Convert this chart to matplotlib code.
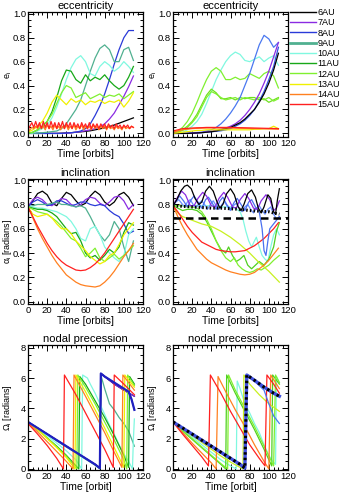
import numpy as np
import matplotlib
matplotlib.use('Agg')
import matplotlib.pyplot as plt
from matplotlib.lines import Line2D
from matplotlib.ticker import MultipleLocator, FormatStrFormatter

plt.rcParams['font.family'] = ['Liberation Sans', 'DejaVu Sans']
plt.rcParams['mathtext.fontset'] = 'custom'
plt.rcParams['mathtext.rm'] = 'Liberation Sans'
plt.rcParams['mathtext.it'] = 'Liberation Sans:italic'

# ---- legend / colours ----
labels = ['6AU', '7AU', '8AU', '9AU', '10AU', '11AU', '12AU', '13AU', '14AU', '15AU']
colors = ['#000000', '#8a2be2', '#2a3ad8', '#50b090', '#80f8e0',
          '#18a818', '#80f030', '#f0f000', '#ff8020', '#ff2020']

# time grid every 5 orbits
T5 = list(range(0, 115, 5))

# ---- eccentricity, left panel (values on T5) ----
eccL = [
    [0, 0, 0, 0, 0, 0, 0, .002, .004, .006, .01, .013, .017, .022, .03, .038, .047, .058, .07, .085, .1, .115, .13],
    [0, 0, 0, 0, 0, 0, 0, 0, .002, .005, .01, .015, .022, .03, .04, .055, .08, .12, .17, .24, .31, .39, .48],
    [0, 0, 0, 0, 0, 0, 0, 0, .003, .006, .01, .02, .04, .08, .15, .23, .33, .45, .58, .7, .8, .86, .86],
    [0, 0, .003, .006, .01, .015, .02, .04, .08, .14, .2, .28, .4, .52, .63, .71, .74, .7, .6, .6, .7, .72, .61],
    [0, .005, .02, .04, .07, .13, .22, .33, .45, .55, .62, .65, .6, .5, .48, .56, .6, .57, .52, .55, .6, .56, .51],
    [0, .01, .03, .06, .1, .18, .3, .44, .53, .52, .45, .42, .49, .44, .47, .45, .49, .44, .4, .37, .4, .47, .56],
    [0, .01, .03, .06, .1, .16, .25, .34, .4, .38, .3, .32, .34, .29, .31, .33, .3, .32, .31, .33, .29, .32, .35],
    [.01, .03, .06, .1, .17, .26, .32, .28, .24, .29, .26, .28, .24, .27, .26, .28, .25, .27, .26, .28, .22, .27, .34],
]
# fast oscillating outer planets, every 2 orbits
eccL_14 = [.02, .03, .05, .04, .06, .04, .07, .04, .06, .03, .07, .04, .06, .03, .07, .04, .06, .03, .06, .04,
           .07, .03, .06, .04, .07, .03, .06, .04, .07, .03, .06, .04, .06, .03, .07, .04, .06, .03, .06, .04,
           .06, .03, .06, .04, .05, .03, .06, .04, .05, .03, .06, .04, .05, .04, .06, .05]
eccL_15 = [.03, .06, .09, .05, .1, .05, .09, .04, .1, .05, .09, .04, .1, .05, .09, .04, .09, .05, .1, .04,
           .09, .05, .09, .04, .09, .05, .08, .04, .09, .05, .08, .04, .09, .04, .08, .05, .08, .04, .08, .05,
           .08, .04, .08, .05, .07, .04, .08, .05, .07, .04, .07, .05, .07, .04, .06, .05]

# ---- eccentricity, right panel (values on T5) ----
eccR_black = [0, 0, 0, 0, .002, .004, .006, .01, .014, .02, .03, .04, .05, .07, .09, .12, .16, .2, .26, .33, .42, .53, .67]
eccR_purple = [0, 0, 0, 0, .002, .004, .008, .012, .018, .025, .035, .045, .06, .08, .11, .15, .2, .26, .33, .42, .52, .64, .76]
eccR_blue = [0, 0, 0, .002, .005, .008, .01, .02, .03, .05, .08, .12, .17, .23, .3, .4, .5, .62, .74, .82, .79, .72, .76]
eccR_blue2 = [0, 0, 0, 0, 0, .003, .006, .01, .014, .018, .022, .03, .04, .06, .08, .11, .15, .2, .27, .35, .45, .56, .72]
eccR_cyan = [0, 0, .01, .03, .06, .1, .16, .25, .35, .45, .53, .6, .65, .68, .66, .61, .6, .62, .64, .6, .63, .65, .57]
eccR_green = [0, .02, .05, .1, .17, .26, .36, .45, .52, .55, .52, .45, .45, .47, .45, .46, .5, .48, .46, .5, .52, .48, .38]
eccR_green2 = [0, .01, .03, .06, .1, .16, .24, .32, .37, .34, .29, .29, .3, .28, .3, .29, .3, .3, .28, .29, .26, .28, .3]
eccR_green3 = [0, .01, .025, .05, .09, .14, .22, .3, .35, .33, .3, .28, .29, .3, .28, .3, .29, .28, .3, .28, .3, .27, .29]
eccR_yellow = [0, .005, .01, .015, .02, .025, .025, .03, .03, .03, .03, .03, .03, .03, .03, .03, .03, .035, .035, .04, .04, .06, .04]
eccR_orange = [.01, .02, .03, .035, .04, .042, .044, .045, .045, .045, .045, .045, .045, .044, .043, .042, .041, .04, .04, .038, .037, .036, .035]
eccR_red = [.02, .03, .04, .042, .045, .047, .048, .05, .05, .05, .05, .05, .05, .049, .048, .047, .046, .045, .044, .043, .042, .041, .04]

# ---- inclination, left panel (values on T5) ----
incL = [
    [.78, .83, .89, .91, .88, .81, .79, .85, .9, .88, .83, .79, .81, .87, .91, .88, .82, .79, .82, .88, .9, .86, .79],
    [.78, .84, .86, .84, .8, .79, .82, .85, .84, .8, .78, .8, .84, .86, .85, .81, .79, .82, .86, .87, .83, .76, .8],
    [.78, .82, .84, .82, .79, .8, .83, .83, .81, .79, .8, .82, .82, .8, .79, .8, .79, .75, .72, .7, .64, .56, .58],
    [.78, .79, .8, .8, .8, .81, .82, .8, .8, .79, .78, .79, .77, .7, .62, .55, .5, .55, .66, .6, .45, .33, .5],
    [.78, .78, .77, .77, .76, .75, .74, .72, .7, .66, .6, .52, .5, .6, .62, .55, .45, .4, .36, .33, .38, .55, .6],
    [.78, .77, .76, .76, .75, .73, .7, .65, .6, .56, .57, .5, .4, .36, .38, .34, .38, .43, .4, .45, .57, .65, .63],
    [.78, .76, .74, .73, .72, .69, .66, .62, .57, .52, .5, .44, .37, .4, .44, .36, .33, .36, .39, .35, .38, .42, .46],
    [.78, .72, .7, .71, .72, .69, .64, .6, .6, .56, .5, .46, .42, .37, .34, .31, .33, .38, .4, .47, .55, .6, .65],
    [.78, .69, .6, .52, .45, .38, .32, .27, .22, .19, .16, .14, .13, .125, .12, .13, .16, .2, .25, .31, .37, .42, .48],
    [.78, .7, .62, .55, .48, .42, .37, .33, .3, .28, .26, .255, .26, .28, .31, .35, .4, .46, .52, .58, .64, .7, .76],
]

# ---- inclination, right panel (own time samples) ----
incR_black_t = [0, 4, 8, 12, 15, 19, 23, 27, 30, 34, 38, 42, 46, 49, 52, 56, 60, 64, 68, 71, 74, 78, 82, 86, 89, 92, 95, 99, 102, 105, 107, 109, 111]
incR_black = [.79, .84, .91, .95, .96, .93, .85, .8, .82, .91, .95, .91, .82, .77, .8, .89, .93, .88, .78, .75, .8, .89, .92, .86, .77, .73, .78, .88, .85, .74, .72, .84, .93]
incR_purple_t = [0, 4, 9, 13, 18, 22, 26, 31, 35, 40, 44, 48, 53, 57, 62, 66, 70, 75, 79, 84, 88, 92, 97, 101, 105, 108, 111]
incR_purple = [.79, .85, .91, .88, .79, .79, .85, .9, .87, .79, .78, .85, .9, .86, .78, .77, .84, .89, .85, .77, .76, .83, .88, .84, .75, .77, .83]
incR_blue_t = [0, 4, 7, 11, 15, 19, 22, 26, 30, 34, 37, 41, 45, 49, 52, 56, 60, 64, 67, 71, 75, 79, 82, 86, 90, 93, 95, 97, 99, 101, 104, 107, 111]
incR_blue = [.79, .84, .87, .83, .78, .84, .87, .82, .77, .84, .86, .81, .76, .83, .86, .8, .76, .82, .85, .8, .75, .82, .84, .78, .74, .6, .42, .38, .5, .6, .63, .66, .7]
incR_blue2_t = [0, 3, 6, 9, 12, 15, 18, 21, 24, 27, 30, 33, 36, 39, 42, 45, 48, 51, 54, 57, 60, 63, 66, 69, 72, 75, 78, 81, 84, 87, 90, 93, 96, 99, 102, 105, 108, 111]
incR_blue2 = [.79, .82, .84, .81, .78, .82, .84, .8, .77, .81, .83, .8, .76, .8, .83, .79, .76, .8, .82, .78, .75, .79, .81, .77, .74, .78, .8, .76, .73, .77, .79, .75, .72, .76, .78, .72, .68, .7]
incR_dot_t = [0, 10, 20, 30, 40, 50, 60, 70, 80, 90, 100, 105, 111]
incR_dot = [.79, .785, .78, .775, .77, .77, .765, .76, .75, .745, .74, .73, .72]
incR_cyan_t = [0, 10, 20, 30, 40, 50, 60, 65, 70, 73, 76, 79, 82, 85, 87, 90, 93, 96, 99, 102, 105, 108, 111]
incR_cyan = [.79, .79, .79, .79, .79, .78, .78, .77, .74, .68, .58, .5, .45, .5, .53, .45, .38, .35, .33, .45, .55, .6, .55]
incR_green_t = [0, 5, 10, 15, 20, 25, 30, 35, 40, 45, 50, 55, 58, 62, 66, 70, 74, 78, 82, 86, 90, 95, 100, 105, 108, 111]
incR_green = [.79, .77, .75, .76, .76, .75, .72, .66, .58, .5, .43, .4, .45, .38, .33, .35, .38, .3, .27, .3, .33, .3, .35, .45, .58, .65]
incR_lgreen_t = [0, 5, 10, 15, 20, 25, 30, 35, 40, 45, 50, 55, 60, 64, 68, 72, 76, 80, 84, 88, 92, 96, 100, 105, 111]
incR_lgreen = [.79, .79, .79, .78, .78, .77, .74, .68, .6, .5, .42, .36, .33, .36, .3, .27, .25, .24, .25, .27, .26, .28, .3, .34, .38]
incR_ygreen_t = [0, 5, 10, 20, 30, 40, 50, 60, 70, 80, 90, 100, 111]
incR_ygreen = [.79, .73, .7, .67, .64, .62, .58, .53, .47, .4, .32, .25, .16]
incR_orange = [.79, .7, .62, .55, .49, .43, .39, .35, .32, .3, .28, .26, .245, .235, .225, .22, .225, .24, .27, .3, .34, .39, .44]
incR_red = [.79, .74, .68, .62, .57, .53, .49, .47, .45, .43, .42, .415, .41, .41, .415, .42, .44, .46, .49, .52, .56, .6, .65]
incR_crit = 0.685

# ---- nodal precession, left panel ----
nodL = [
    ([0, 10, 20, 30, 40, 50, 60, 70, 75, 76, 80, 90, 100, 111], [3.1, 2.7, 2.3, 1.9, 1.5, 1.1, .7, .3, .05, 6.3, 6.1, 5.6, 5.2, 4.8]),
    ([0, 10, 20, 30, 40, 50, 60, 70, 75, 76, 80, 90, 100, 111], [3.1, 2.7, 2.3, 1.9, 1.5, 1.1, .7, .3, .05, 6.3, 6.1, 5.6, 5.2, 4.8]),
    ([0, 10, 20, 30, 40, 50, 60, 70, 75, 76, 80, 90, 100, 105, 108, 111], [3.1, 2.7, 2.3, 1.9, 1.5, 1.1, .7, .3, .05, 6.3, 6.1, 5.7, 5.3, 5.1, 4.6, 3.9]),
    ([0, 10, 20, 30, 40, 50, 60, 70, 75, 76, 80, 85, 90, 95, 100, 105, 111], [3.1, 2.7, 2.3, 1.85, 1.45, 1.05, .65, .25, 0, 6.2, 5.3, 4.3, 3.9, 3.4, 3.0, 2.5, 1.5]),
    ([0, 10, 20, 30, 40, 50, 56, 57, 62, 65, 70, 75, 80, 85, 90, 95, 100, 105, 109, 110, 111], [3.1, 2.7, 2.2, 1.7, 1.2, .6, 0, 6.2, 6.0, 5.6, 5.0, 4.3, 3.6, 2.9, 2.3, 1.6, 1.0, .5, 0, 2.0, 3.3]),
    ([0, 10, 20, 30, 40, 53, 54, 60, 70, 80, 90, 100, 105, 106, 111], [3.1, 2.6, 2.05, 1.5, .9, 0, 6.1, 5.6, 4.5, 3.4, 2.2, .9, .1, 6.1, 5.6]),
    ([0, 10, 20, 30, 40, 51, 52, 60, 70, 80, 90, 100, 103, 104, 111], [3.1, 2.6, 2.05, 1.45, .85, 0, 6.2, 5.4, 4.3, 3.1, 1.9, .6, 0, 6.2, 5.5]),
    ([0, 10, 20, 30, 40, 49, 50, 60, 70, 80, 90, 100, 101, 111], [3.1, 2.6, 2.0, 1.4, .75, 0, 6.2, 5.1, 3.9, 2.7, 1.4, .1, 6.2, 5.4]),
    ([0, 10, 20, 30, 40, 47, 48, 60, 70, 80, 90, 98, 99, 111], [3.05, 2.45, 1.8, 1.15, .5, 0, 6.2, 4.8, 3.6, 2.4, 1.1, .1, 6.2, 5.2]),
    ([0, 10, 20, 30, 37, 38, 50, 60, 70, 80, 89, 90, 100, 111], [3.0, 2.3, 1.55, .7, 0, 6.2, 4.9, 3.7, 2.5, 1.3, .1, 6.2, 5.6, 4.9]),
]

# ---- nodal precession, right panel ----
nodR_main_t = [0, 10, 20, 30, 40, 50, 60, 70, 75, 77, 85, 95, 105, 111]
nodR_main = [3.1, 2.7, 2.3, 1.9, 1.5, 1.1, .7, .3, .05, 6.2, 5.85, 5.4, 5.0, 4.8]
nodR_blue_t = [0, 10, 20, 30, 40, 50, 60, 70, 75, 77, 85, 95, 100, 105, 111]
nodR_blue = [3.1, 2.7, 2.3, 1.9, 1.5, 1.1, .7, .3, 0, 6.2, 5.8, 5.2, 4.3, 3.5, 3.0]
nodR_cyan_t = [0, 10, 20, 30, 40, 50, 60, 66, 67, 70, 75, 80, 85, 90, 95, 100, 104, 107, 108, 111]
nodR_cyan = [3.1, 2.6, 2.1, 1.6, 1.1, .6, .2, 0, 5.8, 5.3, 4.3, 3.7, 3.0, 2.4, 1.6, .9, .5, .3, 6.1, 5.7]
nodR_green_t = [0, 10, 20, 30, 40, 50, 55, 56, 65, 75, 85, 95, 103, 104, 111]
nodR_green = [3.1, 2.5, 1.95, 1.4, .85, .3, 0, 6.2, 5.0, 3.8, 2.6, 1.3, .2, 6.2, 5.6]
nodR_lgreen_t = [0, 10, 20, 30, 40, 50, 57, 58, 65, 75, 85, 95, 105, 107, 111]
nodR_lgreen = [3.1, 2.55, 2.0, 1.45, .9, .35, 0, 6.2, 5.2, 4.0, 2.8, 1.5, .2, 6.2, 5.7]
nodR_ygreen_t = [0, 10, 20, 30, 40, 50, 60, 70, 73, 74, 80, 90, 100, 111]
nodR_ygreen = [3.1, 2.65, 2.2, 1.75, 1.3, .85, .45, .1, 0, 6.2, 5.6, 4.9, 4.3, 3.8]
nodR_orange_t = [0, 10, 20, 30, 40, 45, 47, 55, 65, 75, 85, 95, 100, 102, 111]
nodR_orange = [3.1, 2.4, 1.7, 1.05, .4, 0, 6.1, 5.1, 3.9, 2.8, 1.6, .5, 0, 6.2, 5.3]
nodR_red_t = [0, 10, 20, 30, 37, 39, 50, 60, 70, 80, 90, 96, 98, 105, 111]
nodR_red = [3.1, 2.3, 1.55, .8, .2, 6.2, 5.0, 3.8, 2.7, 1.6, .7, .2, 6.2, 5.6, 5.0]

# ---------------------------------------------------------------
W, H = 339, 493
fig = plt.figure(figsize=(W / 100, H / 100), dpi=100)


def box(x0, top, bottom):
    return [x0 / W, 1 - bottom / H, 115 / W, (bottom - top) / H]


axE1 = fig.add_axes(box(28, 12, 137))
axE2 = fig.add_axes(box(173, 12, 137))
axI1 = fig.add_axes(box(28, 179, 304))
axI2 = fig.add_axes(box(173, 179, 304))
axN1 = fig.add_axes(box(28, 345, 470))
axN2 = fig.add_axes(box(173, 345, 470))


def style(ax, ylim, ymaj, fmt, title, ylabel, xlabel):
    ax.set_xlim(0, 120)
    ax.set_ylim(*ylim)
    ax.xaxis.set_major_locator(MultipleLocator(20))
    ax.xaxis.set_minor_locator(MultipleLocator(5))
    ax.yaxis.set_major_locator(MultipleLocator(ymaj))
    ax.yaxis.set_minor_locator(MultipleLocator(ymaj / 4))
    ax.yaxis.set_major_formatter(FormatStrFormatter(fmt))
    ax.tick_params(which='both', direction='in', top=True, right=True,
                   labelsize=6.8, width=0.7, pad=1.5)
    ax.tick_params(which='major', length=4)
    ax.tick_params(which='minor', length=2)
    for s in ax.spines.values():
        s.set_linewidth(0.9)
    ax.set_title(title, fontsize=8, pad=2)
    ax.set_ylabel(ylabel, fontsize=6.5)
    ax.yaxis.set_label_coords(-0.125, 0.5)
    ax.set_xlabel(xlabel, fontsize=7.5, labelpad=0.5)


lw = 0.9

# eccentricity left
for vals, c in zip(eccL, colors[:8]):
    axE1.plot(T5, vals, color=c, lw=lw)
axE1.plot(2 * np.arange(len(eccL_14)), eccL_14, color=colors[8], lw=lw)
axE1.plot(2 * np.arange(len(eccL_15)), eccL_15, color=colors[9], lw=lw)

# eccentricity right
axE2.plot(T5, eccR_cyan, color=colors[4], lw=lw)
axE2.plot(T5, eccR_green, color=colors[6], lw=lw)
axE2.plot(T5, eccR_green2, color='#70e020', lw=lw)
axE2.plot(T5, eccR_green3, color=colors[6], lw=lw)
axE2.plot(T5, eccR_blue, color='#4a78f0', lw=lw)
axE2.plot(T5, eccR_blue2, color='#3050e0', lw=lw)
axE2.plot(T5, eccR_purple, color=colors[1], lw=lw)
axE2.plot(T5, eccR_black, color=colors[0], lw=lw)
axE2.plot(T5, eccR_yellow, color=colors[7], lw=lw)
axE2.plot(T5, eccR_orange, color=colors[8], lw=lw)
axE2.plot(T5, eccR_red, color=colors[9], lw=lw)

# inclination left
for vals, c in zip(incL, colors):
    axI1.plot(T5, vals, color=c, lw=lw)

# inclination right
axI2.plot(incR_cyan_t, incR_cyan, color=colors[4], lw=lw)
axI2.plot(incR_green_t, incR_green, color='#50d020', lw=lw)
axI2.plot(incR_lgreen_t, incR_lgreen, color=colors[6], lw=lw)
axI2.plot(incR_ygreen_t, incR_ygreen, color='#c8f020', lw=lw)
axI2.plot(T5, incR_orange, color=colors[8], lw=lw)
axI2.plot(T5, incR_red, color=colors[9], lw=lw)
axI2.plot(incR_blue2_t, incR_blue2, color='#6a90ff', lw=lw)
axI2.plot(incR_blue_t, incR_blue, color='#4a70f0', lw=lw)
axI2.plot(incR_purple_t, incR_purple, color=colors[1], lw=lw)
axI2.plot(incR_black_t, incR_black, color=colors[0], lw=lw)
axI2.plot(incR_dot_t, incR_dot, color='k', lw=2.2, dashes=(0.5, 0.7))
axI2.axhline(incR_crit, color='k', lw=1.8, dashes=(3, 2))

# nodal precession left
for (t, v), c in zip(nodL, colors):
    axN1.plot(t, v, color=c, lw=lw)
axN1.plot(nodL[2][0], nodL[2][1], color='#2020c0', lw=1.6)

# nodal precession right
axN2.plot(nodR_cyan_t, nodR_cyan, color=colors[4], lw=lw)
axN2.plot(nodR_green_t, nodR_green, color='#50d020', lw=lw)
axN2.plot(nodR_lgreen_t, nodR_lgreen, color=colors[6], lw=lw)
axN2.plot(nodR_ygreen_t, nodR_ygreen, color='#c8f020', lw=lw)
axN2.plot(nodR_orange_t, nodR_orange, color=colors[8], lw=lw)
axN2.plot(nodR_red_t, nodR_red, color=colors[9], lw=lw)
axN2.plot(nodR_blue_t, nodR_blue, color='#4a78f0', lw=lw)
axN2.plot(nodR_main_t, nodR_main, color='#4050e0', lw=2.4)
axN2.plot(nodR_main_t, nodR_main, color='k', lw=2.2, dashes=(0.8, 1.0))

style(axE1, (-0.03, 1.015), 0.2, '%.1f', 'eccentricity', r'e$_\mathregular{i}$', 'Time [orbits]')
style(axE2, (-0.03, 1.015), 0.2, '%.1f', 'eccentricity', r'e$_\mathregular{i}$', 'Time [orbits]')
style(axI1, (-0.02, 1.01), 0.2, '%.1f', 'inclination', r'α$_\mathregular{i}$ [radians]', 'Time [orbits]')
style(axI2, (-0.02, 1.01), 0.2, '%.1f', 'inclination', r'α$_\mathregular{i}$ [radians]', 'Time [orbits]')
style(axN1, (-0.07, 8.18), 2, '%d', 'nodal precession', r'Ω$_\mathregular{i}$ [radians]', 'Time [orbit]')
style(axN2, (-0.07, 8.18), 2, '%d', 'nodal precession', r'Ω$_\mathregular{i}$ [radians]', 'Time [orbit]')

# legend
handles = [Line2D([], [], color=c, lw=(2.0 if l == '9AU' else 1.0)) for c, l in zip(colors, labels)]
fig.legend(handles, labels, loc='upper left', bbox_to_anchor=(290 / W, 1 - 8 / H),
           frameon=False, fontsize=6.5, handlelength=2.9, handletextpad=0.15,
           labelspacing=0.14, borderpad=0, borderaxespad=0)

fig.savefig('out.png', dpi=100)
